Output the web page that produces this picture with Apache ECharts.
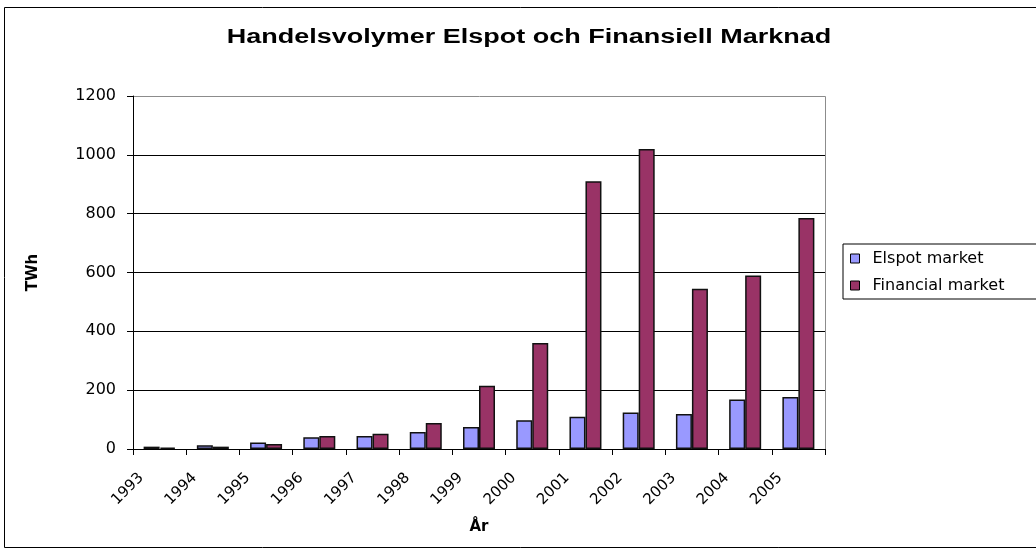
<!DOCTYPE html>
<html>
<head>
    <meta charset="utf-8"/>
    <title>Handelsvolymer</title>
    <script src="https://cdn.jsdelivr.net/npm/echarts@6/dist/echarts.min.js"></script>
</head>
<body style="margin:0;background:#fff;">

<div id="main" style="width: 1036px;height:549px;"></div>

<script>
    // data
    var years = ['1993','1994','1995','1996','1997','1998','1999','2000','2001','2002','2003','2004','2005'];
    var elspot = [8, 13, 22, 40, 44, 58, 75, 98, 110, 124, 119, 168, 177];
    var financial = [5, 8, 17, 44, 52, 88, 215, 360, 910, 1020, 545, 590, 785];
    var yTicks = [0, 200, 400, 600, 800, 1000, 1200];

    var myChart = echarts.init(document.getElementById('main'));

    var font = 'DejaVu Sans, Liberation Sans, sans-serif';

    var option = {
        backgroundColor: '#fff',
        textStyle: {fontFamily: font},
        graphic: [{
            // title, stretched sideways like the original
            type: 'text',
            x: 529,
            y: 37,
            scaleX: 1.35,
            style: {
                text: 'Handelsvolymer Elspot och Finansiell Marknad',
                font: 'bold 20px Liberation Sans, Arial, sans-serif',
                fill: '#000',
                textAlign: 'center',
                textVerticalAlign: 'middle'
            },
            silent: true
        }, {
            type: 'rect',
            shape: {x: 4.5, y: 7.5, width: 1040, height: 540},
            style: {fill: 'none', stroke: '#000', lineWidth: 1},
            silent: true
        }, {
            type: 'rect',
            shape: {x: 133.5, y: 96.5, width: 692, height: 353},
            style: {fill: 'none', stroke: '#8c8c8c', lineWidth: 1},
            silent: true,
            z: 0
        }],
        legend: {
            data: ['Elspot market', 'Financial market'],
            orient: 'vertical',
            left: 843,
            top: 244,
            itemWidth: 9,
            itemHeight: 9,
            itemGap: 8,
            padding: [5, 40, 4, 7],
            borderColor: '#000',
            borderWidth: 1,
            icon: 'rect',
            itemStyle: {borderColor: '#000', borderWidth: 1},
            textStyle: {fontSize: 16, color: '#000', lineHeight: 19, padding: [0, 0, 0, 8]}
        },
        grid: {left: 133, right: 211, top: 96, bottom: 100},
        xAxis: {
            type: 'category',
            data: years,
            name: 'År',
            nameLocation: 'middle',
            nameGap: 71,
            nameTextStyle: {fontSize: 15, fontWeight: 'bold', color: '#000'},
            axisLine: {lineStyle: {color: '#000', width: 1}},
            axisTick: {show: true, alignWithLabel: false, length: 6, lineStyle: {color: '#000'}},
            axisLabel: {rotate: 45, fontSize: 15, color: '#000', margin: 8, interval: 0, padding: [0, 26, 0, 0]}
        },
        yAxis: {
            type: 'value',
            min: 0,
            max: 1200,
            interval: 200,
            name: 'TWh',
            nameLocation: 'middle',
            nameGap: 92,
            nameTextStyle: {fontSize: 15, fontWeight: 'bold', color: '#000'},
            axisLine: {show: true, lineStyle: {color: '#000', width: 1}},
            axisTick: {show: true, length: 6, lineStyle: {color: '#000'}},
            axisLabel: {
                fontSize: 16, color: '#000', margin: 17,
                formatter: function (v) { return yTicks.indexOf(v) >= 0 ? String(v) : ''; }
            },
            splitLine: {show: true, showMaxLine: false, lineStyle: {color: '#000', width: 1}}
        },
        series: [{
            name: 'Elspot market',
            type: 'bar',
            data: elspot,
            barWidth: 16,
            barGap: '0%',
            itemStyle: {color: '#9999ff', borderColor: '#111', borderWidth: 1.5}
        }, {
            name: 'Financial market',
            type: 'bar',
            data: financial,
            barWidth: 16,
            itemStyle: {color: '#993366', borderColor: '#111', borderWidth: 1.5}
        }]
    };

    myChart.setOption(option);
</script>
</body>
</html>
